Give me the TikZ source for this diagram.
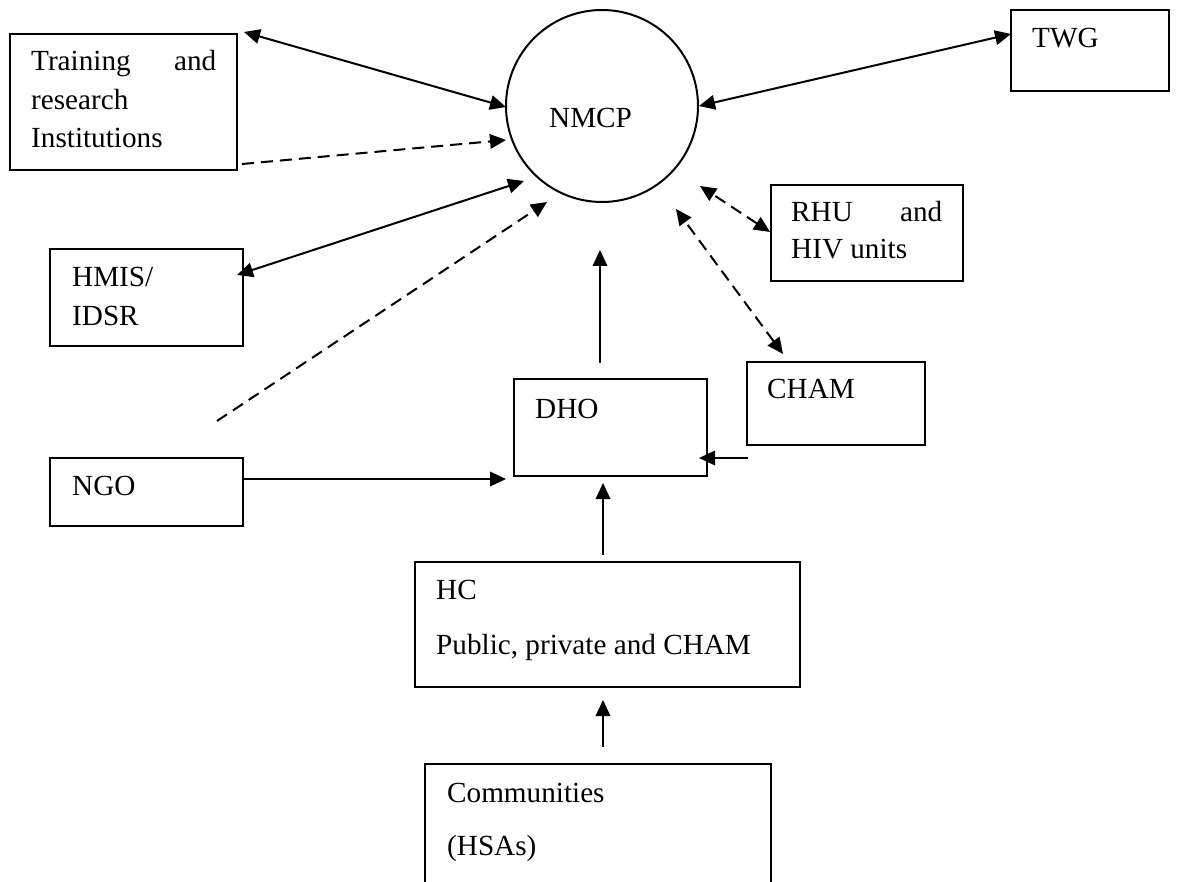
\documentclass[tikz,border=0pt]{standalone}
\usepackage{fontspec}
\setmainfont{Liberation Serif}
\usetikzlibrary{arrows.meta}
\tikzset{
  box/.style={draw, line width=2pt, rectangle, inner sep=0pt, outer sep=0pt, anchor=north west},
  lbl/.style={anchor=base west, inner sep=0pt, font=\fontsize{29.2}{38.5}\selectfont},
  conn/.style={line width=2pt, -{Triangle[length=16pt,width=14.5pt]}},
  both/.style={line width=2pt, {Triangle[length=16pt,width=14.5pt]}-{Triangle[length=16pt,width=14.5pt]}},
  dsh/.style={dash pattern=on 12pt off 7pt},
}
\begin{document}
\begin{tikzpicture}[x=1pt, y=-1pt]
\useasboundingbox (0,0) rectangle (1178,882);
\fill[white] (0,0) rectangle (1178,882);
\clip (0,0) rectangle (1178,882);
% boxes
\node[box, minimum width=227pt, minimum height=136pt] (train) at (10,34) {};
\node[draw, circle, line width=2pt, minimum size=192pt, inner sep=0pt, outer sep=0pt] (nmcp) at (602,106) {};
\node[box, minimum width=158pt, minimum height=81pt] (twg) at (1011,10) {};
\node[box, minimum width=192pt, minimum height=96pt] (rhu) at (771,185) {};
\node[box, minimum width=193pt, minimum height=97pt] (hmis) at (50,249) {};
\node[box, minimum width=178pt, minimum height=83pt] (cham) at (747,362) {};
\node[box, minimum width=193pt, minimum height=97pt] (dho) at (514,379) {};
\node[box, minimum width=193pt, minimum height=68pt] (ngo) at (50,458) {};
\node[box, minimum width=385pt, minimum height=125pt] (hc) at (415,562) {};
\node[box, minimum width=346pt, minimum height=160pt] (comm) at (425,764) {};
% texts
\node[lbl] (trainT) at (31,71) {\parbox[t]{220pt}{\makebox[185pt][s]{Training and}\\research\\Institutions}};
\node[lbl] (nmcpT) at (549,128) {NMCP};
\node[lbl] (twgT) at (1032,48) {TWG};
\node[lbl, font=\fontsize{29.2}{37}\selectfont] (rhuT) at (791,222) {\parbox[t]{180pt}{\makebox[151pt][s]{RHU and}\\HIV units}};
\node[lbl, font=\fontsize{29.2}{39}\selectfont] (hmisT) at (72,287) {\parbox[t]{160pt}{HMIS/\\IDSR}};
\node[lbl] (chamT) at (767,399) {CHAM};
\node[lbl] (dhoT) at (535,418) {DHO};
\node[lbl] (ngoT) at (72,495) {NGO};
\node[lbl, font=\fontsize{29.2}{55}\selectfont] (hcT) at (436,599) {\parbox[t]{360pt}{HC\\Public, private and CHAM}};
\node[lbl, font=\fontsize{29.2}{53}\selectfont] (commT) at (447,802) {\parbox[t]{300pt}{Communities\\(HSAs)}};
% free end of the dashed line
\coordinate (dfree) at (217,421);
% connectors
\draw[both] ([shift={(7,-2)}]train.north east) -- ([shift={(0,1)}]nmcp.west);
\draw[conn, dsh] ([shift={(5,-6)}]train.south east) -- ([shift={(0,34)}]nmcp.west);
\draw[both] ([shift={(-6,26)}]hmis.north east) -- ([shift={(-78,75)}]nmcp.center);
\draw[conn, dsh] (dfree) -- ([shift={(-55,96)}]nmcp.center);
\draw[both] ([shift={(0,24)}]twg.north west) -- ([shift={(1,0)}]nmcp.east);
\draw[both, dsh] ([shift={(-1,47)}]rhu.north west) -- ([shift={(98,80)}]nmcp.center);
\draw[both, dsh] ([shift={(36,-8)}]cham.north west) -- ([shift={(74,103)}]nmcp.center);
\draw[conn] ([shift={(-10.5,-16)}]dho.north) -- ([shift={(-2,48)}]nmcp.south);
\draw[conn] ([shift={(0,21)}]ngo.north east) -- ([shift={(-8,3)}]dho.south west);
\draw[conn] ([shift={(1,13)}]cham.south west) -- ([shift={(-8,-18)}]dho.south east);
\draw[conn] ([shift={(-4.5,-7)}]hc.north) -- ([shift={(-7.5,7)}]dho.south);
\draw[conn] ([shift={(5,-17)}]comm.north) -- ([shift={(-4.5,13)}]hc.south);
\end{tikzpicture}
\end{document}
